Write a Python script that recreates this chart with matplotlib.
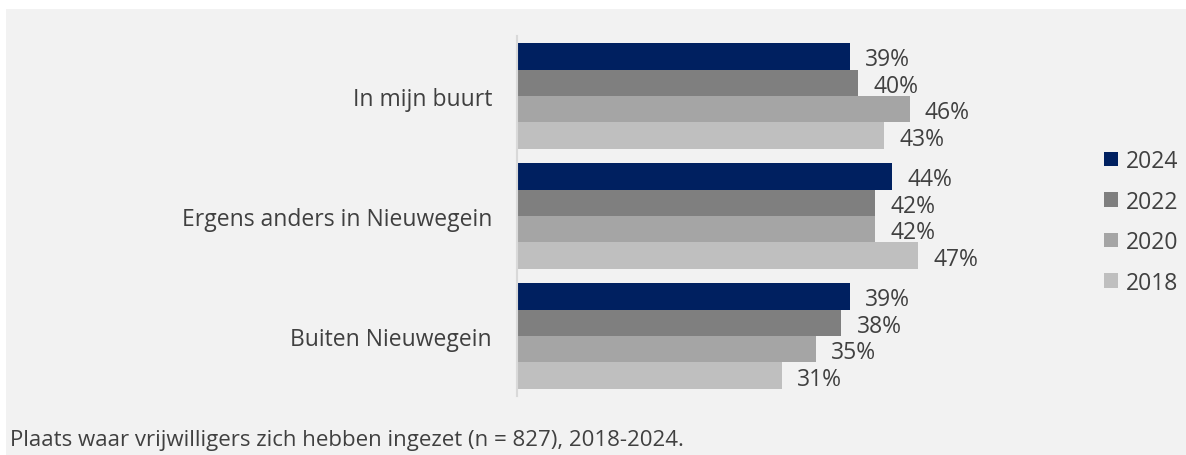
import matplotlib
matplotlib.use("Agg")
import matplotlib.pyplot as plt
from matplotlib.patches import Rectangle, Patch
import numpy as np

categories = ["In mijn buurt", "Ergens anders in Nieuwegein", "Buiten Nieuwegein"]
years = ["2024", "2022", "2020", "2018"]
values = {
    "2024": [39, 44, 39],
    "2022": [40, 42, 38],
    "2020": [46, 42, 35],
    "2018": [43, 47, 31],
}
colors = {"2024": "#002060", "2022": "#7f7f7f", "2020": "#a5a5a5", "2018": "#bfbfbf"}
caption = "Plaats waar vrijwilligers zich hebben ingezet (n = 827), 2018-2024."

plt.rcParams["font.family"] = ["Open Sans", "DejaVu Sans"]
text_color = "#404040"

W, H = 1186, 456
fig = plt.figure(figsize=(W / 100, H / 100), dpi=100, facecolor="white")
fig.patches.append(Rectangle((6 / W, 0), 1 - 6 / W, 1 - 10 / H, transform=fig.transFigure,
                             facecolor="#f2f2f2", edgecolor="none", zorder=-10))

ax = fig.add_axes([517 / W, 1 - 397 / H, 512 / W, 360 / H])
ax.set_facecolor("none")

y = np.arange(len(categories))
h = 0.2208
for i, yr in enumerate(years):
    off = (i - 1.5) * h
    bars = ax.barh(y + off, values[yr], height=h, color=colors[yr], label=yr)
    for b, v in zip(bars, values[yr]):
        ax.annotate(f"{v}%", (v, b.get_y() + h / 2), xytext=(11, -2), textcoords="offset points",
                    va="center", ha="left", fontsize=16.5, color=text_color)

ax.set_xlim(0, 60)
ax.set_ylim(2.5, -0.5)
ax.set_yticks(y)
ax.set_yticklabels(categories, fontsize=16.5, color=text_color)
ax.tick_params(axis="y", length=0, pad=18)
ax.set_xticks([])
for s in ["top", "right", "bottom"]:
    ax.spines[s].set_visible(False)
ax.spines["left"].set_color("#d9d9d9")
ax.spines["left"].set_linewidth(1.5)

handles = [Patch(facecolor=colors[yr], label=yr) for yr in years]
fig.legend(handles=handles, loc="center left", bbox_to_anchor=(1104 / W, 1 - 223 / H),
           frameon=False, fontsize=16.5, labelcolor=text_color, handlelength=0.6,
           handleheight=0.6, handletextpad=0.35, labelspacing=0.72, borderpad=0,
           borderaxespad=0)

fig.text(10 / W, 1 - 441 / H, caption, fontsize=16, color=text_color, va="center", ha="left")

fig.savefig("out.png", dpi=100, facecolor=fig.get_facecolor())
